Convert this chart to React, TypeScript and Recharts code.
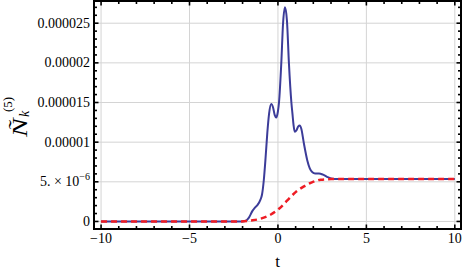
import React from 'react';
import { LineChart, Line, XAxis, YAxis, CartesianGrid } from 'recharts';

// values in units of 1e-6
const blueT = [-10, -2.0, -1.85, -1.65, -1.45, -1.3, -1.15, -1.0, -0.9, -0.8, -0.7, -0.6, -0.5, -0.38, -0.28, -0.18, -0.1, 0.0, 0.06, 0.19, 0.29, 0.4, 0.51, 0.62, 0.76, 0.82, 0.88, 0.95, 1.05, 1.15, 1.23, 1.32, 1.47, 1.66, 1.8, 1.95, 2.1, 2.32, 2.55, 2.8, 3.0, 3.2, 4.0, 10];
const blueV = [0, 0, 0.05, 0.45, 1.3, 1.75, 2.1, 2.7, 3.4, 5.2, 8.0, 11.2, 13.6, 14.8, 14.4, 13.4, 13.1, 13.9, 15.0, 20.0, 25.0, 27.0, 25.3, 20.0, 15.0, 13.6, 12.2, 11.3, 11.5, 12.0, 12.1, 11.7, 9.8, 7.7, 6.7, 6.2, 6.05, 6.05, 5.9, 5.6, 5.42, 5.36, 5.35, 5.35];

const redT = [-10, -2.2, -1.5, -1.0, -0.4, 0.06, 0.53, 1.0, 1.47, 1.95, 2.42, 3.0, 3.5, 10];
const redV = [0, 0, 0.13, 0.33, 0.88, 1.6, 2.65, 3.7, 4.42, 4.96, 5.27, 5.34, 5.35, 5.35];

const xMajor = [-10, -5, 0, 5, 10];
const xMajorLabels = ['\u221210', '\u22125', '0', '5', '10'];
const xMinor = [-10, -9, -8, -7, -6, -5, -4, -3, -2, -1, 0, 1, 2, 3, 4, 5, 6, 7, 8, 9, 10];

const yMajor = [0, 5, 10, 15, 20, 25];
const yMajorLabels = ['0', '5. \u00d7 10', '0.00001', '0.000015', '0.00002', '0.000025'];
const yMinor = [0, 1, 2, 3, 4, 5, 6, 7, 8, 9, 10, 11, 12, 13, 14, 15, 16, 17, 18, 19, 20, 21, 22, 23, 24, 25, 26, 27];

const blueData = blueT.map((t, i) => ({ t, v: blueV[i] }));
const redData = redT.map((t, i) => ({ t, v: redV[i] }));

const FONT = 'Liberation Serif, DejaVu Serif, serif';

const BottomTick = (props: any) => {
  const { x, y, payload } = props;
  const idx = xMajor.indexOf(payload.value);
  const major = idx >= 0;
  return (
    <g>
      <line x1={x} y1={y} x2={x} y2={y - (major ? 4.5 : 3)} stroke="#000" strokeWidth={1.6} />
      {major && (
        <text x={x} y={y + 14} textAnchor="middle" fontFamily={FONT} fontSize={14} fill="#000">
          {xMajorLabels[idx]}
        </text>
      )}
    </g>
  );
};

const TopTick = (props: any) => {
  const { x, y, payload } = props;
  const major = xMajor.indexOf(payload.value) >= 0;
  return <line x1={x} y1={y} x2={x} y2={y + (major ? 4.5 : 3)} stroke="#000" strokeWidth={1.6} />;
};

const LeftTick = (props: any) => {
  const { x, y, payload } = props;
  const idx = yMajor.indexOf(payload.value);
  const major = idx >= 0;
  return (
    <g>
      <line x1={x} y1={y} x2={x + (major ? 4.5 : 3)} y2={y} stroke="#000" strokeWidth={1.6} />
      {major && (
        <text x={x - 4} y={y + 4.5} textAnchor="end" fontFamily={FONT} fontSize={14} fill="#000">
          {yMajorLabels[idx]}
          {payload.value === 5 && (
            <tspan dy={-6} fontSize={10}>{'\u22126'}</tspan>
          )}
        </text>
      )}
    </g>
  );
};

const RightTick = (props: any) => {
  const { x, y, payload } = props;
  const major = yMajor.indexOf(payload.value) >= 0;
  return <line x1={x} y1={y} x2={x - (major ? 4.5 : 3)} y2={y} stroke="#000" strokeWidth={1.6} />;
};

const XLabel = () => (
  <text x={277.5} y={267} textAnchor="middle" fontFamily={FONT} fontSize={17} fill="#000">
    t
  </text>
);

const YLabel = () => (
  <g transform="translate(27,137) rotate(-90)" fontFamily={FONT} fill="#000">
    <text x={0} y={0} fontSize={20} fontStyle="italic" transform="scale(1.4,1)">
      {'\u00d1'}
    </text>
    <text x={20} y={2} fontSize={14} fontStyle="italic">k</text>
    <text x={25} y={-15} fontSize={13}>(5)</text>
  </g>
);

export default function App() {
  const axisLine = { stroke: '#000', strokeWidth: 2, strokeLinecap: 'square' as const };
  return (
    <div style={{ position: 'absolute', left: 0, top: 0 }}>
      <LineChart width={463} height={271} margin={{ top: 0, right: 0, bottom: 0, left: 0 }}>
        <CartesianGrid
          xAxisId="b"
          yAxisId="l"
          stroke="#d4d4d4"
          strokeWidth={1}
          horizontalValues={yMajor}
          verticalValues={xMajor}
        />
        <XAxis
          xAxisId="b"
          dataKey="t"
          type="number"
          orientation="bottom"
          domain={[-10.4, 10.35]}
          allowDataOverflow
          ticks={xMinor}
          interval={0}
          height={42}
          tickSize={0}
          tickMargin={0}
          tickLine={false}
          tick={<BottomTick />}
          axisLine={axisLine}
          label={<XLabel />}
        />
        <XAxis
          xAxisId="t"
          dataKey="t"
          type="number"
          orientation="top"
          domain={[-10.4, 10.35]}
          allowDataOverflow
          ticks={xMinor}
          interval={0}
          height={1}
          tickSize={0}
          tickMargin={0}
          tickLine={false}
          tick={<TopTick />}
          axisLine={axisLine}
        />
        <YAxis
          yAxisId="l"
          type="number"
          orientation="left"
          domain={[-0.95, 27.8]}
          allowDataOverflow
          ticks={yMinor}
          interval={0}
          width={94}
          tickSize={0}
          tickMargin={0}
          tickLine={false}
          tick={<LeftTick />}
          axisLine={axisLine}
          label={<YLabel />}
        />
        <YAxis
          yAxisId="r"
          type="number"
          orientation="right"
          domain={[-0.95, 27.8]}
          allowDataOverflow
          ticks={yMinor}
          interval={0}
          width={2}
          tickSize={0}
          tickMargin={0}
          tickLine={false}
          tick={<RightTick />}
          axisLine={axisLine}
        />
        <Line
          xAxisId="b"
          yAxisId="l"
          data={blueData}
          dataKey="v"
          type="monotone"
          stroke="#3c3c99"
          strokeWidth={2}
          dot={false}
          isAnimationActive={false}
        />
        <Line
          xAxisId="b"
          yAxisId="l"
          data={redData}
          dataKey="v"
          type="monotone"
          stroke="#ee1c24"
          strokeWidth={2.5}
          strokeDasharray="6 4"
          dot={false}
          isAnimationActive={false}
        />
      </LineChart>
    </div>
  );
}
